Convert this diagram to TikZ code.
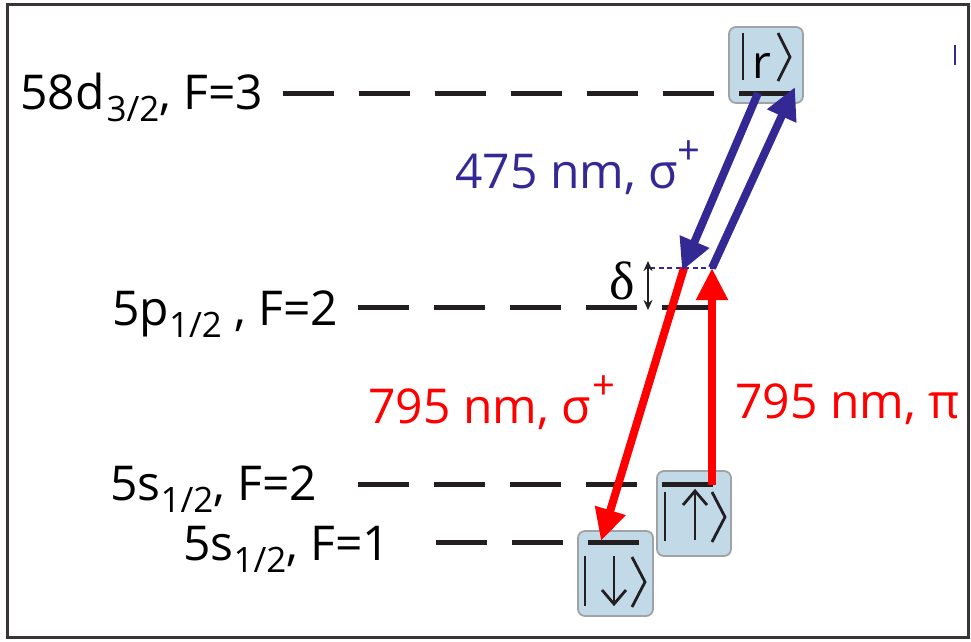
\documentclass[tikz,border=0pt]{standalone}
\usepackage{fontspec}
\setmainfont{Open Sans}
\newfontfamily\serfont{Liberation Serif}
\usetikzlibrary{arrows.meta}
\definecolor{myblue}{RGB}{52,40,148}
\definecolor{myred}{RGB}{255,0,0}
\definecolor{boxfill}{RGB}{194,217,232}
\definecolor{boxline}{RGB}{160,163,166}
\definecolor{levelc}{RGB}{35,31,32}
\newcommand{\lsub}[1]{\raisebox{-0.25em}{\fontsize{35}{35}\selectfont #1}}
\newcommand{\lsup}[1]{\raisebox{0.5em}{\fontsize{40}{40}\selectfont #1}}
\tikzset{
  lvl/.style={draw=levelc, line width=5pt, dash pattern=on 51pt off 25pt},
  ketbox/.style={draw=boxline, fill=boxfill, line width=1.8pt, rounded corners=7pt},
  lab/.style={anchor=base west, inner sep=0pt, font=\fontsize{48}{48}\selectfont},
  ketline/.style={draw=levelc, line width=2.8pt},
  bluearr/.style={draw=myblue, line width=8pt, -{Triangle[length=32pt,width=30pt]}},
  redarr/.style={draw=myred, line width=8pt, -{Triangle[length=32pt,width=30pt]}},
}
\begin{document}
\begin{tikzpicture}[x=1pt,y=-1pt]
\useasboundingbox (0,0) rectangle (971,641);
% frame
\draw[draw=levelc!90, line width=3pt] (7,4) rectangle (968,637);
\draw[myblue, line width=1.2pt] (955,45) -- (955,65);
% ket boxes
\node[ketbox, minimum width=74pt, minimum height=76pt, inner sep=0pt] (rbox) at (766,65) {};
\node[ketbox, minimum width=74pt, minimum height=85pt, inner sep=0pt] (upbox) at (694,513.5) {};
\node[ketbox, minimum width=75pt, minimum height=85pt, inner sep=0pt] (dnbox) at (615.5,573.5) {};
% |r>
\draw[ketline] (743,33) -- (743,80);
\node[anchor=base, inner sep=0pt, font=\fontsize{46}{46}\selectfont] (rket) at (762,78) {r};
\draw[ketline, line join=miter] (778,33) -- (790,57) -- (778,81);
% |up>
\draw[ketline] (665,492) -- (665,541);
\draw[ketline] (695,540) -- (695,491);
\draw[ketline, line join=miter] (683,505) -- (695,491) -- (707,505);
\draw[ketline, line join=miter] (712,492) -- (725,517) -- (712,542);
% |down>
\draw[ketline] (585,556) -- (585,606);
\draw[ketline] (614,556) -- (614,604);
\draw[ketline, line join=miter] (602,590) -- (614,604) -- (626,590);
\draw[ketline, line join=miter] (632,557) -- (645,582) -- (632,607);
% levels
\coordinate (l1a) at (283,93); \coordinate (l1b) at (792,93);
\coordinate (l2a) at (358,307); \coordinate (l2b) at (708,307);
\coordinate (l3a) at (358,484); \coordinate (l3b) at (715,484);
\coordinate (l4a) at (434,542); \coordinate (l4b) at (639,542);
\draw[lvl] (l1a) -- (l1b);
\draw[lvl] (l2a) -- (l2b);
\draw[lvl] (l3a) -- (l3b);
\draw[lvl, dash phase=-2pt] (l4a) -- (l4b);
% labels
\node[lab] (t1) at (20,109) {58d\kern2pt\lsub{3/2}, F=3};
\node[lab] (t2) at (112,325) {5p\lsub{1/2} , F=2};
\node[lab] (t3) at (110,500) {5s\lsub{1/2}, F=2};
\node[lab] (t4) at (183,560) {5s\lsub{1/2}, F=1};
\node[lab, text=myblue] (bl) at (455,188) {475 nm, σ\lsup{+}};
\node[lab, text=myred] (rl1) at (368,423) {795 nm, σ\kern2pt\lsup{+}};
\node[lab, text=myred] (rl2) at (735,418) {795 nm, π};
% detuning
\coordinate (dl) at (650,268); \coordinate (dr) at (715,268);
\draw[myblue, line width=1.8pt, dash pattern=on 5pt off 3.5pt] (dl) -- (dr);
\coordinate (da) at (648,261); \coordinate (db) at (648,310);
\draw[levelc, line width=2.2pt, {Stealth[length=10pt,width=9pt]}-{Stealth[length=10pt,width=9pt]}] (da) -- (db);
\node[anchor=base, inner sep=0pt, font=\serfont\fontsize{54}{54}\selectfont] (delta) at (622,299) {δ};
% arrows
\coordinate (bd0) at (758,93); \coordinate (bd1) at (682,271);
\coordinate (bu0) at (712,268); \coordinate (bu1) at (795,87);
\coordinate (rd0) at (684,268); \coordinate (rd1) at (601,541);
\coordinate (ru0) at (712,485); \coordinate (ru1) at (712,268);
\draw[redarr] (rd0) -- (rd1);
\draw[redarr] (ru0) -- (ru1);
\draw[bluearr] (bd0) -- (bd1);
\draw[bluearr] (bu0) -- (bu1);
\end{tikzpicture}
\end{document}
